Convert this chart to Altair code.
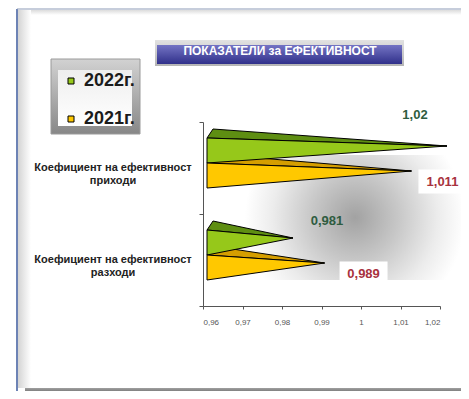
import altair as alt
import pandas as pd

# ---------------- data ----------------
category_prefix = "Коефициент на ефективност"
categories = ["приходи", "разходи"]
series = ["2022г.", "2021г."]
values_2022 = [1.02, 0.981]
values_2021 = [1.011, 0.989]
x_ticks = [0.96, 0.97, 0.98, 0.99, 1.00, 1.01, 1.02]
title_text = "ПОКАЗАТЕЛИ за ЕФЕКТИВНОСТ"

# ---------------- styles ----------------
FONT = "Liberation Sans"
W, H = 237, 184
X_MIN, X_MAX = 0.96, 1.02
PX_X = W / (X_MAX - X_MIN)
PX_Y = H / 2.0


def px2x(p):
    return p / PX_X


def px2y(p):
    return p / PX_Y


front_colors = {"2022г.": "#96C81A", "2021г.": "#FFC800"}
top_colors = {"2022г.": "#5E8E12", "2021г.": "#D59E00"}
label_colors = {"2022г.": "#2E5C40", "2021г.": "#A8323E"}
label_nudge = {(0, "2022г."): (-25, -36), (1, "2022г."): (41, -22),
               (0, "2021г."): (38, 6), (1, "2021г."): (46, 6)}

BASE_OFF = px2x(4)
DEPTH_X = px2x(6)
TIP_OFF = px2x(7)
BAR_H = px2y(25)
DEPTH_Y = px2y(9)
LIFT = px2y(5)

values = {"2022г.": values_2022, "2021г.": values_2021}
front_rows, top_rows, label_rows = [], [], []
for i, cat in enumerate(categories):
    c = i + 0.5 - LIFT
    for j, s in enumerate(series):
        v = values[s][i]
        t = c - BAR_H if j == 0 else c
        b = t + BAR_H
        mid = (t + b) / 2
        b0 = X_MIN + BASE_OFF
        ax = v + TIP_OFF
        ay = mid - DEPTH_Y / 2
        bid = f"{i}-{j}"
        front_rows += [
            dict(id=bid, series=s, y=t, x=b0, x2=b0),
            dict(id=bid, series=s, y=ay, x=ax, x2=b0),
            dict(id=bid, series=s, y=b, x=b0, x2=b0),
        ]
        bx = b0 + DEPTH_X
        ty = t - DEPTH_Y
        interp = bx + (ax - bx) * (t - ty) / (ay - ty)
        top_rows += [
            dict(id=bid, fill=top_colors[s], y=ty, x=bx, x2=bx),
            dict(id=bid, fill=top_colors[s], y=t, x=interp, x2=b0),
            dict(id=bid, fill=top_colors[s], y=ay, x=ax, x2=ax),
        ]
        ndx, ndy = label_nudge[(i, s)]
        label_rows.append(dict(series=s, text=f"{v:g}".replace(".", ","),
                               x=v + px2x(ndx), y=mid + px2y(ndy),
                               color=label_colors[s]))

front_df = pd.DataFrame(front_rows)
top_df = pd.DataFrame(top_rows)
label_df = pd.DataFrame(label_rows)
box_df = label_df[label_df.series == series[1]]
cat_df = pd.DataFrame({"y": [i + 0.5 for i in range(len(categories))],
                       "text": [[category_prefix, c] for c in categories]})
one = pd.DataFrame({"a": [0]})

xscale = alt.Scale(domain=[X_MIN, X_MAX], nice=False, zero=False)
yscale = alt.Scale(domain=[0, 2], reverse=True, nice=False, zero=False)
x_axis = alt.Axis(
    values=x_ticks, title=None, grid=False, tickSize=3,
    labelExpr="replace(format(datum.value, '~g'), '.', ',')",
    labelFont=FONT, labelFontSize=8, labelColor="#555555", labelPadding=9,
    domainColor="#555555", tickColor="#555555")
y_axis = alt.Axis(
    values=[0, 1, 2], labels=False, title=None, grid=False, tickSize=4,
    domainColor="#555555", tickColor="#555555")


def rect(x, x2, y, y2, color, **kw):
    return alt.Chart(one).mark_rect(color=color, **kw).encode(
        x=alt.value(x), x2=alt.value(x2), y=alt.value(y), y2=alt.value(y2))


def lin(c1, c2, vertical=True):
    return {"gradient": "linear", "x1": 0, "y1": 0,
            "x2": 0 if vertical else 1, "y2": 1 if vertical else 0,
            "stops": [{"offset": 0, "color": c1}, {"offset": 1, "color": c2}]}


# frame decorations (pixel positions relative to plot origin)
frame_top_strip = rect(-185, 258, -112, -107, lin("#dcdcdc", "#ffffff"))
frame_left_strip = rect(-185, -172, -112, 266, lin("#d4d4d4", "#ffffff", vertical=False))
frame_bottom = rect(-178, 258, 266, 269, lin("#a0a0a0", "#808080"))
frame_left_line = alt.Chart(one).mark_rule(color="#3c5a9c", strokeWidth=1.5).encode(
    x=alt.value(-186), y=alt.value(-113), y2=alt.value(277))
frame_top_line = alt.Chart(one).mark_rule(color="#8e9cb8", strokeWidth=1.2).encode(
    x=alt.value(-186), x2=alt.value(266), y=alt.value(-113))

shadow = rect(42, 262, 33, 158, {
    "gradient": "radial", "x1": 0.5, "y1": 0.5, "x2": 0.5, "y2": 0.5,
    "r1": 0, "r2": 0.5,
    "stops": [{"offset": 0, "color": "#a2a2a2"}, {"offset": 0.4, "color": "#c8c8c8"},
              {"offset": 0.75, "color": "#ececec"}, {"offset": 1, "color": "#ffffff"}]})

label_boxes = alt.Chart(box_df).mark_rect(
    color="white", xOffset=-24, x2Offset=24, yOffset=-12, y2Offset=12).encode(
    x=alt.X("x:Q", scale=xscale, axis=x_axis), x2="x2:Q",
    y=alt.Y("y:Q", scale=yscale, axis=y_axis), y2="y2:Q").transform_calculate(
    x2="datum.x", y2="datum.y")

top_faces = alt.Chart(top_df).mark_area(
    orient="horizontal", stroke="black", strokeWidth=1, strokeJoin="miter").encode(
    x=alt.X("x:Q", scale=xscale, axis=x_axis, stack=None), x2="x2:Q",
    y=alt.Y("y:Q", scale=yscale, axis=y_axis),
    detail="id:N",
    color=alt.Color("fill:N", scale=None))

front_faces = alt.Chart(front_df).mark_area(
    orient="horizontal", stroke="black", strokeWidth=1, strokeJoin="miter").encode(
    x=alt.X("x:Q", scale=xscale, stack=None, axis=x_axis),
    x2="x2:Q",
    y=alt.Y("y:Q", scale=yscale, axis=y_axis),
    detail="id:N",
    color=alt.Color("series:N", scale=alt.Scale(
        domain=series, range=[front_colors[s] for s in series]),
        legend=alt.Legend(orient="none", legendX=-141, legendY=-50, title=None,
                          symbolType="square", symbolSize=36,
                          symbolStrokeColor="#333333", symbolStrokeWidth=1,
                          symbolOpacity=1,
                          labelFont=FONT, labelFontSize=18, labelFontWeight="bold",
                          labelColor="#1b1b1b", labelOffset=4, rowPadding=20,
                          padding=0, zindex=2)))

data_labels = alt.Chart(label_df).mark_text(
    font=FONT, fontSize=13, fontWeight="bold", align="center", baseline="middle").encode(
    x=alt.X("x:Q", scale=xscale, axis=x_axis),
    y=alt.Y("y:Q", scale=yscale, axis=y_axis),
    text="text:N", color=alt.Color("color:N", scale=None))

cat_labels = alt.Chart(cat_df).mark_text(
    font=FONT, fontSize=11, fontWeight="bold", align="center", baseline="middle",
    color="#222222", lineHeight=13).encode(
    x=alt.value(-90), y=alt.Y("y:Q", scale=yscale, axis=y_axis), text="text")

title_outer = rect(-48, 201, -82, -56, lin("#e2e2e2", "#b4b4b4"))
title_inner = rect(-46, 199, -77, -58, lin("#7474c4", "#30308a"))
title_mark = alt.Chart(pd.DataFrame({"t": [title_text]})).mark_text(
    font=FONT, fontSize=12, fontWeight="bold", color="white", align="center",
    baseline="middle").encode(x=alt.value(77), y=alt.value(-71), text="t:N")

legend_outer = rect(-152, -63, -63, 12, lin("#d2d2d2", "#878787"), stroke="#9a9a9a")
legend_inner = rect(-145, -71, -52, 4, lin("#eeeeee", "#ffffff"))

chart = alt.layer(
    frame_top_strip, frame_left_strip, frame_bottom, frame_left_line, frame_top_line,
    shadow, label_boxes, top_faces, front_faces, data_labels, cat_labels,
    title_outer, title_inner, title_mark, legend_outer, legend_inner,
).properties(
    width=W, height=H,
    padding={"left": 195, "top": 114, "right": 21, "bottom": 85},
    autosize=alt.AutoSizeParams(type="none"),
    background="white",
).configure_view(stroke=None)

chart.save("out.html", embed_options={"renderer": "svg", "actions": False})
